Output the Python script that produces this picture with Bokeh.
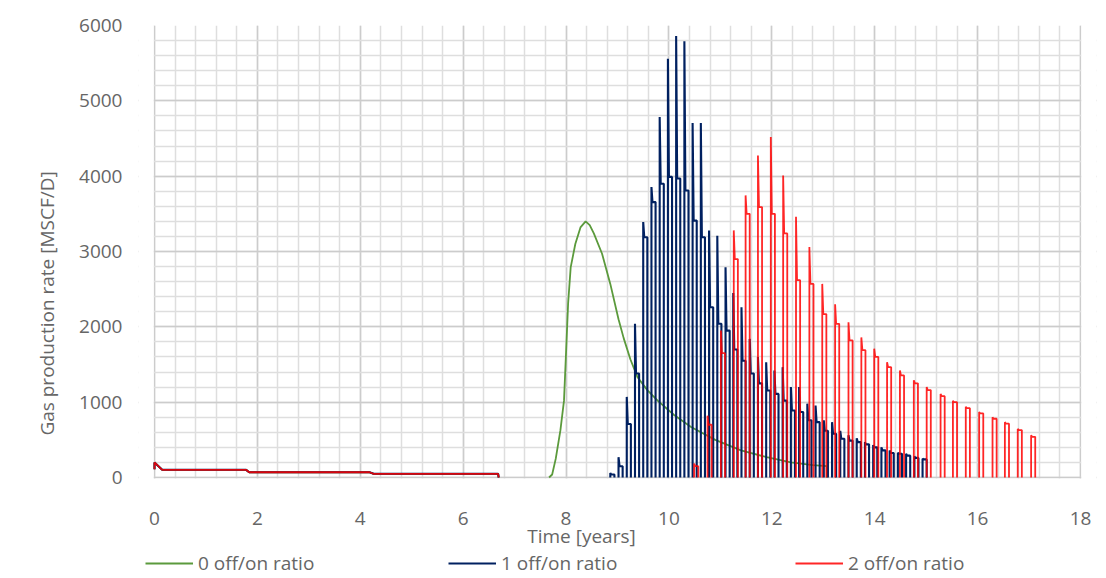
import numpy as np
from bokeh.plotting import figure
from bokeh.models import (Range1d, SingleIntervalTicker, FixedTicker, Legend, LegendItem,
                          Label, BoxAnnotation)
from bokeh.embed import file_html
from bokeh.resources import INLINE

# ---------------- data ----------------
# early production, identical for the three cases (years, MSCF/D)
early_t = [0.0, 0.0, 0.15, 1.78, 1.84, 4.18, 4.26, 6.68, 6.69]
early_v = [110, 200, 102, 102, 70, 70, 49, 49, 0]

# 0 off/on ratio : continuous production
green_t = [7.67, 7.73, 7.80, 7.89, 7.96, 8.01, 8.04, 8.09, 8.18, 8.28, 8.38, 8.46,
           8.54, 8.70, 8.86, 9.02, 9.12, 9.25, 9.39, 9.58, 9.78, 10.10, 10.43,
           10.90, 11.40, 11.90, 12.37, 12.80, 13.07, 13.07]
green_v = [0, 40, 250, 625, 1020, 1820, 2310, 2790, 3100, 3320, 3400, 3350,
           3240, 2970, 2570, 2100, 1850, 1570, 1330, 1160, 1020, 830, 670,
           500, 360, 270, 200, 165, 150, 0]

# 1 off/on ratio : start of each production cycle, peak rate, rate after the peak
blue_start = [8.86, 9.02, 9.18, 9.34, 9.50, 9.66, 9.82, 9.98, 10.14, 10.30,
              10.46, 10.62, 10.78, 10.94, 11.10, 11.25, 11.41, 11.57, 11.73, 11.89,
              12.05, 12.21, 12.37, 12.53, 12.69, 12.85, 13.01, 13.17, 13.33, 13.49,
              13.65, 13.81, 13.97, 14.13, 14.29, 14.45, 14.61, 14.77, 14.93]
blue_peak = [60, 270, 1070, 2040, 3390, 3855, 4785, 5560, 5860, 5790,
             4705, 4705, 3280, 3210, 2790, 2450, 2260, 1840, 1600, 1530,
             1420, 1465, 1200, 1200, 980, 955, 760, 735, 620, 560,
             520, 470, 430, 400, 360, 330, 315, 280, 250]
blue_level = [40, 150, 710, 1380, 3190, 3656, 3900, 3990, 3970, 3810,
              3410, 3190, 2260, 2040, 1950, 1700, 1550, 1380, 1250, 1155,
              1110, 1020, 890, 870, 760, 735, 620, 580, 515, 490,
              470, 440, 400, 360, 325, 315, 290, 260, 240]

# 2 off/on ratio
red_start = [10.49, 10.75, 11.01, 11.26, 11.49, 11.73, 11.98, 12.22, 12.47, 12.73,
             12.98, 13.23, 13.49, 13.74, 13.99, 14.24, 14.49, 14.76, 15.01, 15.28,
             15.52, 15.77, 16.03, 16.29, 16.53, 16.78, 17.04]
red_peak = [185, 820, 1950, 3280, 3745, 4275, 4520, 4010, 3460, 3060,
            2570, 2300, 2060, 1860, 1710, 1530, 1420, 1290, 1200, 1110,
            1020, 940, 870, 800, 735, 645, 560]
red_level = [150, 700, 1650, 2900, 3500, 3590, 3500, 3240, 2620, 2570,
             2170, 2040, 1820, 1690, 1600, 1465, 1355, 1250, 1160, 1080,
             1000, 920, 850, 780, 715, 630, 540]

on_time = 0.08  # years of each "on" period

y_major = [0, 1000, 2000, 3000, 4000, 5000, 6000]
y_minor = [v for v in range(0, 6001, 200)]

series_names = ["0 off/on ratio", "1 off/on ratio", "2 off/on ratio"]
series_colors = ["#5B9A3C", "#002060", "#FF0000"]
x_title = "Time [years]"
y_title = "Gas production  rate [MSCF/D]"

FONT = "Open Sans"
TXT = "#666666"


def cyclic(starts, peaks, levels):
    xs = list(early_t) + [np.nan]
    ys = list(early_v) + [np.nan]
    for t0, pk, lv in zip(starts, peaks, levels):
        xs += [t0, t0, t0 + 0.25 * on_time, t0 + on_time, t0 + on_time, np.nan]
        ys += [0, pk, lv, lv, 0, np.nan]
    return xs, ys


# plot area of the reference: x 0..18 over pixels 154..1080, y 0..6000 over rows 477..25.
# The frame is widened so that texts around the axes (drawn inside it) stay visible.
W, H = 1100, 576
FL, FR, FT = 138, 1096, 25
px_per_year = (1080 - 154) / 18.0
px_per_unit = (477 - 25) / 6000.0
x_lo = -(154 - FL) / px_per_year
x_hi = 18 + (FR - 1080) / px_per_year
y_lo = -(H - 477) / px_per_unit

p = figure(width=W, height=H, output_backend="svg", toolbar_location=None,
           x_range=Range1d(x_lo, x_hi), y_range=Range1d(y_lo, 6000),
           min_border_left=FL, min_border_right=W - FR, min_border_top=FT,
           min_border_bottom=0)
p.outline_line_color = None
p.background_fill_color = "white"
p.border_fill_color = "white"

p.xaxis.ticker = SingleIntervalTicker(interval=2, num_minor_ticks=5)
p.yaxis.ticker = FixedTicker(ticks=y_major, minor_ticks=y_minor)
p.xaxis.fixed_location = 0
p.xaxis.bounds = (0, 18)
p.yaxis.bounds = (0, 6000)
for ax in (p.xaxis, p.yaxis):
    ax.axis_line_color = None
    ax.major_tick_line_color = None
    ax.minor_tick_line_color = None
    ax.major_label_text_font = FONT
    ax.major_label_text_font_size = "19px"
    ax.major_label_text_color = TXT
p.xaxis.major_label_standoff = 28
p.yaxis.major_label_standoff = 10
p.yaxis.axis_label = y_title
p.yaxis.axis_label_text_font = FONT
p.yaxis.axis_label_text_font_size = "19px"
p.yaxis.axis_label_text_font_style = "normal"
p.yaxis.axis_label_text_color = TXT
p.yaxis.axis_label_standoff = 16

p.xgrid.bounds = (-0.01, 18.01)
p.ygrid.bounds = (-1, 6001)
for g in (p.xgrid, p.ygrid):
    g.grid_line_color = "#cccccc"
    g.grid_line_width = 1.5
    g.minor_grid_line_color = "#dedede"
    g.minor_grid_line_width = 1.5

# white covers outside the plot area (hide grid lines there)
for kw in (dict(top=-12), dict(right=-0.015), dict(left=18.015)):
    p.add_layout(BoxAnnotation(fill_color="white", fill_alpha=1.0, line_alpha=0,
                               level="underlay", **kw))

# series
r0 = p.line(list(early_t) + [np.nan] + green_t, list(early_v) + [np.nan] + green_v,
            line_color=series_colors[0], line_width=1.8)
bx, by = cyclic(blue_start, blue_peak, blue_level)
r1 = p.line(bx, by, line_color=series_colors[1], line_width=2.1)
rx, ry = cyclic(red_start, red_peak, red_level)
r2 = p.line(rx, ry, line_color=series_colors[2], line_width=1.8, line_alpha=0.85)

p.add_layout(Label(x=8.3, y=-770, text=x_title, text_align="center",
                   text_baseline="middle", text_font=FONT, text_font_size="19px",
                   text_color=TXT))

leg_x = [145 - FL, 448 - FL, 795 - FL]
for name, rend, lx in zip(series_names, (r0, r1, r2), leg_x):
    leg = Legend(items=[LegendItem(label=name, renderers=[rend])], location=(lx, 0),
                 glyph_width=48, glyph_height=20, label_standoff=5, padding=0, margin=0,
                 border_line_color=None, background_fill_alpha=0,
                 label_text_font=FONT, label_text_font_size="19px", label_text_color=TXT)
    p.add_layout(leg)

open("out.html", "w").write(file_html(p, INLINE))
